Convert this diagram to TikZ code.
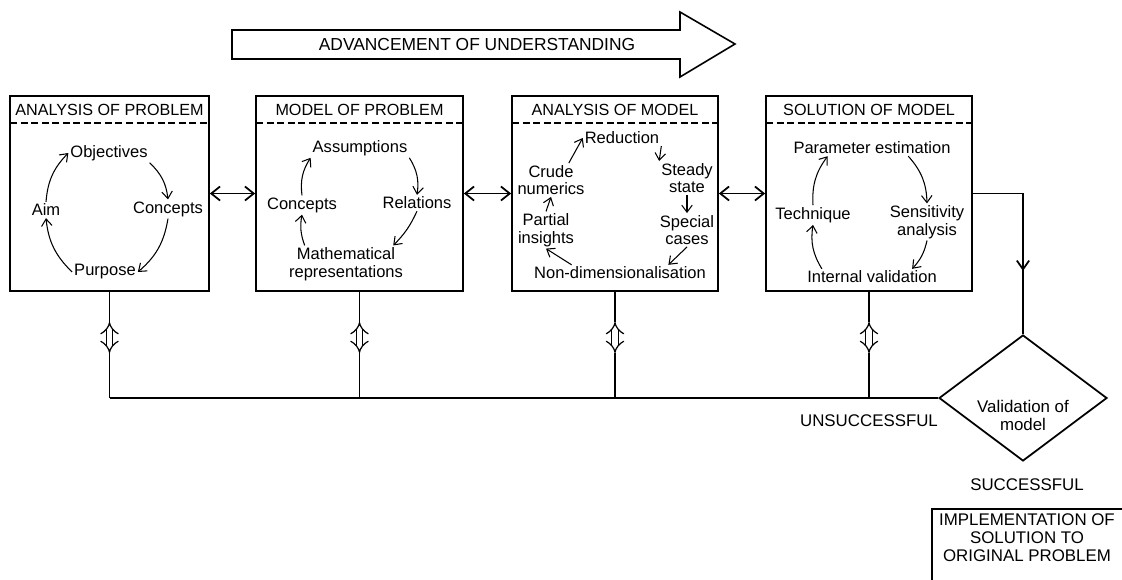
\documentclass[tikz,border=0pt]{standalone}
\usepackage{fontspec}
\setmainfont{Liberation Sans}
\usetikzlibrary{calc,arrows.meta,positioning,shapes.geometric,fit}
\newcommand{\panel}[4]{\node[panel,fit={(#2,96) (#3,291)}] (#1) {};
\draw[hdash] (#2,123)--(#3,123);
\node[ttl] (#1t) at ({(#2+#3)/2},110){#4};}

\begin{document}
\begin{tikzpicture}[x=0.02cm,y=-0.02cm,
  panel/.style={draw,line width=1pt,inner sep=0pt},
  hdash/.style={line width=0.7pt,dash pattern=on 4pt off 2pt},
  ttl/.style={font=\fontsize{9.2}{10}\selectfont},
  item/.style={font=\fontsize{9.4}{10}\selectfont,align=center,inner sep=1pt},
  note/.style={font=\fontsize{9.6}{10.2}\selectfont,align=center,inner sep=1pt},
  cyc/.style={line width=0.6pt,-{Straight Barb[length=4pt,width=6pt]}},
  link/.style={line width=1pt,{Straight Barb[length=5pt,width=8pt]}-{Straight Barb[length=5pt,width=8pt]}},
  wire/.style={line width=1pt},
  updown/.style={double,double distance=3pt,line width=0.7pt,{Implies}-{Implies}}]
\useasboundingbox (0,0) rectangle (1122,579);
% big arrow on top
\draw[line width=0.9pt] (232,30)--(680,30)--(680,12)--(735,44)--(680,77)--(680,59)--(232,59)--cycle;
\node[note,font=\fontsize{9.9}{10}\selectfont] (adv) at (477,45){ADVANCEMENT OF UNDERSTANDING};
\panel{b1}{10}{209}{ANALYSIS OF PROBLEM}
\panel{b2}{256}{463}{MODEL OF PROBLEM}
\panel{b3}{512}{718}{ANALYSIS OF MODEL}
\panel{b4}{766}{972}{SOLUTION OF MODEL}
% analysis of problem
\node[item] (ob) at (109,153){Objectives};
\node[item] (co1) at (168,209){Concepts};
\node[item] (pu) at (105,272){Purpose};
\node[item] (ai) at (46,210){Aim};
\draw[cyc] (ob.south east) to[bend left=20] (co1.north);
\draw[cyc] (co1.south) to[bend left=20] (pu.east);
\draw[cyc] (pu.west) to[bend left=20] (ai.south);
\draw[cyc] (ai.north) to[bend left=20] (ob.west);
% model of problem
\node[item] (as) at (360,148){Assumptions};
\node[item] (re) at (417,203){Relations};
\node[item] (ma) at (346,264){Mathematical\\representations};
\node[item] (co2) at (302,205){Concepts};
\draw[cyc] (as.south east) to[bend left=20] (re.north);
\draw[cyc] (re.south) to[bend left=10] ($(ma.north)!0.8!(ma.north east)$);
\draw[cyc] ($(ma.north)!0.7!(ma.north west)$) to[bend left=15] (co2.south);
\draw[cyc] (co2.north) to[bend left=20] (as.south west);
% analysis of model
\node[item] (rd) at (622,138){Reduction};
\node[item] (st) at (687,178){Steady\\state};
\node[item] (sp) at (687,230){Special\\cases};
\node[item] (nd) at (620,273){Non-dimensionalisation};
\node[item] (pi) at (546,230){Partial\\insights};
\node[item] (cn) at (551,180){Crude\\numerics};
\draw[cyc] ($(cn.north)!0.5!(cn.north east)$) -- (rd.west);
\draw[cyc] (rd.south east) -- (st.north west);
\draw[cyc] (st.south) -- (sp.north);
\draw[cyc] (sp.south) -- ($(nd.north)!0.55!(nd.north east)$);
\draw[cyc] ($(nd.north)!0.55!(nd.north west)$) -- (pi.south);
\draw[cyc] (pi.north) -- (cn.south);
% solution of model
\node[item] (pe) at (872,148){Parameter estimation};
\node[item] (sa) at (927,222){Sensitivity\\analysis};
\node[item] (iv) at (872,277){Internal validation};
\node[item] (te) at (813,215){Technique};
\draw[cyc] ($(pe.south)!0.45!(pe.south east)$) to[bend left=20] (sa.north);
\draw[cyc] (sa.south) to[bend left=15] ($(iv.north)!0.6!(iv.north east)$);
\draw[cyc] ($(iv.north)!0.75!(iv.north west)$) to[bend left=20] (te.south);
\draw[cyc] (te.north) to[bend left=20] ($(pe.south)!0.55!(pe.south west)$);
% links between the stages
\draw[link] (b1.east)--(b2.west);
\draw[link] (b2.east)--(b3.west);
\draw[link] (b3.east)--(b4.west);
% validation
\node[diamond,draw,line width=1pt,minimum width=3.36cm,minimum height=2.52cm,inner sep=0pt] (val) at (1023,398){};
\node[note] (valt) at (1023,415){Validation of\\model};
\foreach \b in {b1,b2,b3,b4}{
  \draw[wire] (\b.south)--(\b.south |- 0,322);
  \draw[updown] (\b.south |- 0,322)--(\b.south |- 0,353);
  \draw[wire] (\b.south |- 0,353)--(\b.south |- val.west);}
\draw[wire] (b1.south |- val.west)--(val.west);
\draw[wire] (b4.east) -| (val.north);
\draw[wire,-{Straight Barb[length=5pt,width=7pt]}] (b4.east -| val.north)--($(b4.east -| val.north)!0.55!(val.north)$);
\node[note] (uns) at (869,421){UNSUCCESSFUL};
\node[note] (suc) at (1027,485){SUCCESSFUL};
\node[panel,anchor=north west,minimum width=4cm,minimum height=3cm] (imp) at (931,508){};
\node[note] (impt) at (1027,538){IMPLEMENTATION OF\\SOLUTION TO\\ORIGINAL PROBLEM};
\end{tikzpicture}
\end{document}
